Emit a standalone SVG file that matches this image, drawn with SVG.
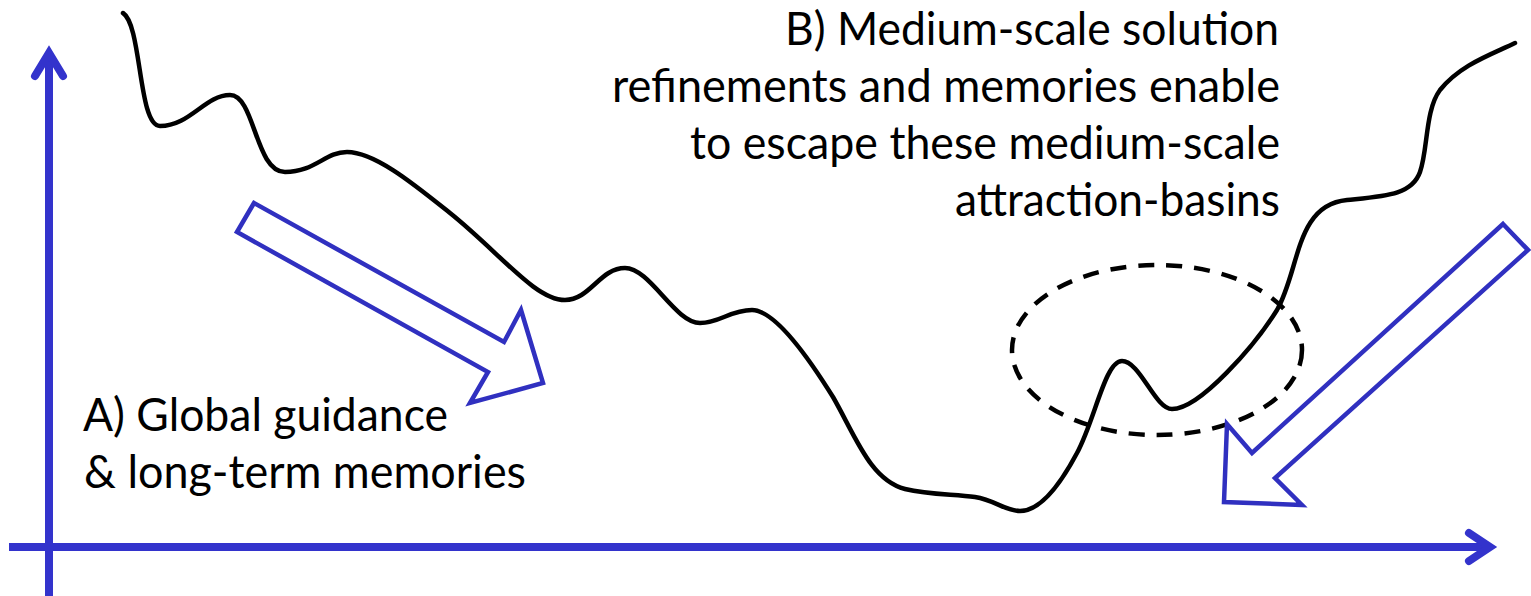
<svg xmlns="http://www.w3.org/2000/svg" width="1531" height="596" viewBox="0 0 1531 596">
<style>
.axis{fill:none;stroke:#3333CC;stroke-width:8}
.head{fill:none;stroke:#3333CC;stroke-width:8;stroke-linecap:round;stroke-linejoin:miter;stroke-miterlimit:10}
.block{fill:#FFFFFF;stroke:#3030C0;stroke-width:4.5;stroke-linejoin:miter}
.curve{fill:none;stroke:#000;stroke-width:4.5;stroke-linecap:round;stroke-linejoin:round}
.basin{fill:none;stroke:#000;stroke-width:4.5;stroke-dasharray:16 12}
.lbl{font-family:Lato,"Open Sans","Liberation Sans",sans-serif;font-size:46px;fill:#000}
</style>
<rect width="1531" height="596" fill="#FFFFFF"/>
<g id="connectors">
  <g id="y-axis">
    <line class="axis" x1="49" y1="600" x2="49" y2="56"/>
    <polyline class="head" points="35,76 49,53 63,76"/>
  </g>
  <g id="x-axis">
    <line class="axis" x1="9" y1="547" x2="1488" y2="547"/>
    <polyline class="head" points="1469,533 1490,547 1469,561"/>
  </g>
</g>
<g id="landscape">
  <path class="curve" d="M123,13 C142,25 138,126 160,126 C190,126 205,95 230,95 C255,95 255,172 285,172 C315,172 325,152 347,152 C375,152 415,185 450,213 C500,253 535,300 565,300 C590,300 600,268 625,268 C650,268 675,323 700,323 C720,323 730,310 752,310 C775,310 810,360 833,397 C855,435 870,480 905,489 C930,495 955,494 975,497 C995,500 1005,511 1020,511 C1040,511 1060,485 1077,453 C1095,420 1105,361 1122,361 C1140,361 1155,409 1172,409 C1200,409 1255,345 1277,310 C1300,270 1295,205 1347,200 C1385,196 1412,195 1420,172 C1428,150 1425,110 1440,90 C1460,65 1490,55 1515,43"/>
</g>
<g id="basin">
  <ellipse class="basin" cx="1157" cy="350" rx="145" ry="85"/>
</g>
<g id="arrow-a">
  <polygon class="block" points="254,203 237,232 488,372 470,403 543,383 521,310 504,342"/>
</g>
<g id="arrow-b">
  <polygon class="block" points="1503,224 1528,250 1275,478 1302,505 1224,502 1227,424 1252,453"/>
</g>
<g id="label-a">
  <text class="lbl" x="83" y="431" textLength="365" lengthAdjust="spacingAndGlyphs">A) Global guidance</text>
  <text class="lbl" x="84" y="488" textLength="442" lengthAdjust="spacingAndGlyphs">&amp; long-term memories</text>
</g>
<g id="label-b">
  <text class="lbl" x="1279" y="45" text-anchor="end" textLength="494" lengthAdjust="spacingAndGlyphs">B) Medium-scale solution</text>
  <text class="lbl" x="1280" y="102" text-anchor="end" textLength="668" lengthAdjust="spacingAndGlyphs">refinements and memories enable</text>
  <text class="lbl" x="1280" y="159" text-anchor="end" textLength="590" lengthAdjust="spacingAndGlyphs">to escape these medium-scale</text>
  <text class="lbl" x="1280" y="216" text-anchor="end" textLength="325" lengthAdjust="spacingAndGlyphs">attraction-basins</text>
</g>
</svg>
